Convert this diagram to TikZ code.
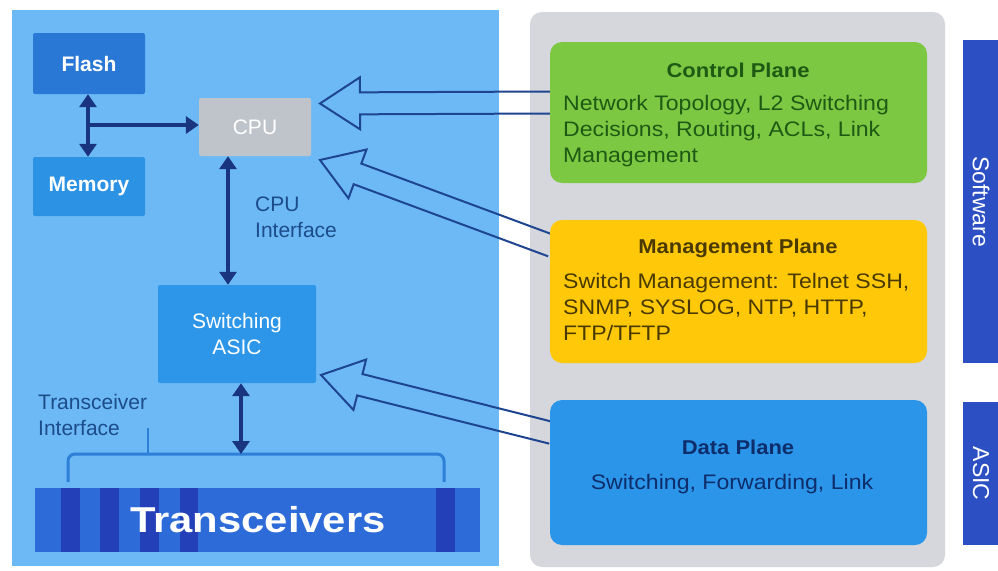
\documentclass[tikz,border=0pt]{standalone}
\usepackage{fontspec}
\setmainfont{Liberation Sans}
\newfontfamily\widefont{Liberation Sans}[FakeStretch=1.1]
\newfontfamily\bigfont{Liberation Sans}[FakeStretch=1.16]
\usetikzlibrary{calc,arrows.meta}
\definecolor{panelblue}{HTML}{6CB9F6}
\definecolor{panelgray}{HTML}{D5D7DC}
\definecolor{flashc}{HTML}{2A78D6}
\definecolor{memc}{HTML}{2C92E4}
\definecolor{cpuc}{HTML}{BFC3CA}
\definecolor{asicc}{HTML}{2D96E8}
\definecolor{barc}{HTML}{2C6BD8}
\definecolor{stripec}{HTML}{2440B8}
\definecolor{navy}{HTML}{1A3580}
\definecolor{arrline}{HTML}{1E4690}
\definecolor{ctrlc}{HTML}{7CC843}
\definecolor{ctrltxt}{HTML}{1E5A14}
\definecolor{mgmtc}{HTML}{FFC90A}
\definecolor{mgmttxt}{HTML}{4A3A00}
\definecolor{datac}{HTML}{2B95E9}
\definecolor{datatxt}{HTML}{0D2D6B}
\definecolor{tabc}{HTML}{2C4FC4}
\definecolor{labeltxt}{HTML}{1C4C8A}
\definecolor{bracec}{HTML}{2D7FD8}
\newcommand\hollowarr[2]{%
  \draw[hollow]
    ($(#1)!11pt!-90:($(#2)!40pt!(#1)$)$) --
    ($($(#2)!40pt!(#1)$)!11pt!90:(#1)$) --
    ($($(#2)!40pt!(#1)$)!26pt!90:(#1)$) --
    (#2) --
    ($($(#2)!40pt!(#1)$)!26pt!-90:(#1)$) --
    ($($(#2)!40pt!(#1)$)!11pt!-90:(#1)$) --
    ($(#1)!11pt!90:($(#2)!40pt!(#1)$)$);}
\begin{document}
\begin{tikzpicture}[x=1pt,y=-1pt,
  box/.style={rounded corners=2pt, inner sep=0pt, align=center, text=white, font=\fontsize{21}{24}\selectfont},
  plane/.style={rounded corners=12pt, inner sep=0pt},
  dbl/.style={navy, line width=4.5pt, {Triangle[length=13pt,width=17pt]}-{Triangle[length=13pt,width=17pt]}},
  sgl/.style={navy, line width=4.5pt, -{Triangle[length=13pt,width=17pt]}},
  hollow/.style={arrline, line width=2pt, line join=miter},
  lbl/.style={text=labeltxt, align=left, anchor=west, inner sep=0pt, font=\fontsize{21}{26}\selectfont},
  ptitle/.style={inner sep=0pt, font=\widefont\bfseries\fontsize{20}{24}\selectfont},
  ptext/.style={inner sep=0pt, anchor=north west, align=left, font=\widefont\fontsize{21}{26}\selectfont},
  tab/.style={fill=tabc, inner sep=0pt},
  tabtxt/.style={text=white, rotate=-90, inner sep=0pt, font=\fontsize{23}{24}\selectfont}]
\useasboundingbox (0,0) rectangle (998,570);
\fill[white] (0,0) rectangle (998,570);
% panels
\fill[panelblue] (12,10) rectangle (499,566);
\fill[panelgray, rounded corners=12pt] (530,12) rectangle (945,567);
% left side nodes
\node[box, fill=flashc, font=\bfseries\fontsize{21}{24}\selectfont, minimum width=112pt, minimum height=61pt] (flash) at (89,63.5) {Flash};
\node[box, fill=memc, font=\bfseries\fontsize{21}{24}\selectfont, minimum width=112pt, minimum height=59pt] (mem) at (89,186.5) {Memory};
\node[box, fill=cpuc, minimum width=112pt, minimum height=58pt] (cpu) at (255,127) {CPU};
\node[box, fill=asicc, minimum width=158pt, minimum height=98pt, font=\fontsize{21}{26}\selectfont] (asic) at (237,334) {Switching\\ASIC};
% transceiver bar
\node[fill=barc, minimum width=445pt, minimum height=64pt, inner sep=0pt] (bar) at (257.5,520) {};
\foreach \a/\b in {61/80,100/119,140/159,180/198,436/455}
  \fill[stripec] (\a,488) rectangle (\b,552);
\node[text=white, inner sep=0pt, font=\bigfont\bfseries\fontsize{36}{40}\selectfont, anchor=base west] (trtxt) at (130,532) {Transceivers};
% brace
\draw[bracec, line width=3pt, rounded corners=7pt] (68,482) -- (68,454) -- (444,454) -- (444,482);
\draw[bracec, line width=2.5pt] (148,454) -- (148,428);
\coordinate (bracetop) at (241,454);
% labels
\node[lbl] (cpuif) at (255,217) {CPU\\Interface};
\node[lbl] (trif) at (38,415) {Transceiver\\Interface};
% navy arrows
\coordinate (junc) at (88,125);
\coordinate (cx) at (228,0);
\draw[dbl] (flash.south -| junc) -- (mem.north -| junc);
\draw[sgl] (junc) -- (cpu.west |- junc);
\draw[dbl] (cpu.south -| cx) -- (asic.north -| cx);
\draw[dbl] (asic.south -| bracetop) -- (bracetop);
% hollow arrow coordinates
\coordinate (s1) at (552,102.5);
\coordinate (t1) at (320,103.5);
\coordinate (s2) at (552,246);
\coordinate (t2) at (320,160);
\coordinate (s3) at (552,433);
\coordinate (t3) at (321,375);
\hollowarr{s1}{t1}
\hollowarr{s2}{t2}
\hollowarr{s3}{t3}
% planes
\node[plane, fill=ctrlc, minimum width=377pt, minimum height=141pt] (ctrl) at (738.5,112.5) {};
\node[plane, fill=mgmtc, minimum width=377pt, minimum height=143pt] (mgmt) at (738.5,291.5) {};
\node[plane, fill=datac, minimum width=377pt, minimum height=145pt] (data) at (738.5,472.5) {};
\node[ptitle, text=ctrltxt] (ctrlt) at (738,70) {Control Plane};
\node[ptext, text=ctrltxt] (ctrlb) at (563,95) {Network Topology, L2 Switching\\Decisions, Routing, ACLs, Link\\Management};
\node[ptitle, text=mgmttxt] (mgmtt) at (738,248) {Management Plane};
\node[ptext, text=mgmttxt] (mgmtb) at (563,273) {Switch Management: Telnet SSH,\\SNMP, SYSLOG, NTP, HTTP,\\FTP/TFTP};
\node[ptitle, text=datatxt] (datat) at (738,447) {Data Plane};
\node[inner sep=0pt, text=datatxt, font=\widefont\fontsize{21}{26}\selectfont] (datab) at (732,484) {Switching, Forwarding, Link};
% tabs
\node[tab, minimum width=36pt, minimum height=323pt] (sw) at (981,201.5) {};
\node[tabtxt] at (sw.center) {Software};
\node[tab, minimum width=36pt, minimum height=143pt] (as) at (981,473.5) {};
\node[tabtxt] at (as.center) {ASIC};
\end{tikzpicture}
\end{document}
